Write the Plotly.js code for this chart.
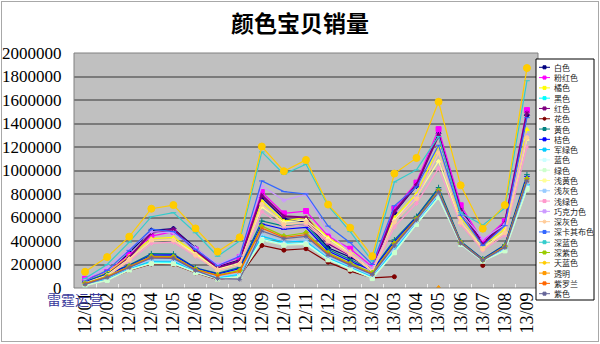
<!DOCTYPE html>
<html><head><meta charset="utf-8">
<script src="https://cdn.plot.ly/plotly-3.0.1.min.js"></script>
<style>
html,body{margin:0;padding:0;background:#fff}
#wrap{position:relative;width:600px;height:344px;overflow:hidden}
#c{width:600px;height:344px}
#frame{position:absolute;left:1px;top:1px;width:596px;height:339px;border:1px solid #a8a8a8;pointer-events:none}
</style>
</head><body>
<div id="wrap"><div id="c"></div><div id="frame"></div></div>
<script>
const categories = ["12/01","12/02","12/03","12/04","12/05","12/06","12/07","12/08","12/09","12/10","12/11","12/12","13/01","13/02","13/03","13/04","13/05","13/06","13/07","13/08","13/09"];
const seriesNames = ["白色","粉红色","橘色","黑色","红色","花色","黄色","桔色","军绿色","蓝色","绿色","浅黄色","浅灰色","浅绿色","巧克力色","深灰色","深卡其布色","深蓝色","深紫色","天蓝色","透明","紫罗兰","紫色"];

const white      = [50000,120000,300000,490000,505000,340000,180000,240000,769000,590000,561000,343000,263000,165000,640000,868000,1318000,680000,380000,560000,1471000];
const pink       = [78000,135000,280000,442000,479000,328000,186000,263000,817000,635000,655000,442000,334000,181000,675000,897000,1352000,704000,399000,570000,1514000];
const orange     = [60000,130000,270000,420000,430000,300000,170000,230000,740000,570000,600000,430000,310000,160000,600000,800000,1200000,600000,360000,500000,1350000];
const black      = [25000,75000,160000,220000,218000,140000,85000,110000,420000,375000,385000,250000,170000,92000,315000,550000,780000,375000,232000,325000,860000];
const red        = [45000,110000,260000,470000,500000,320000,170000,230000,790000,610000,600000,380000,280000,150000,650000,880000,1300000,660000,370000,550000,1490000];
const floral     = [25000,70000,150000,205000,200000,130000,72000,100000,362000,322000,334000,220000,143000,87000,96000,null,null,null,192000,null,null];
const yellow     = [55000,125000,195000,292000,290000,172000,125000,175000,570000,527000,540000,330000,240000,155000,410000,610000,855000,398000,248000,368000,965000];
const tangerine  = [50000,115000,190000,280000,282000,168000,118000,165000,545000,500000,515000,315000,228000,148000,395000,600000,840000,392000,245000,362000,950000];
const armyGreen  = [28000,80000,165000,230000,228000,145000,90000,120000,440000,390000,400000,260000,180000,100000,330000,560000,790000,378000,234000,335000,880000];
const blue       = [22000,68000,155000,212000,210000,135000,78000,100000,414000,371000,380000,245000,165000,85000,305000,545000,772000,373000,230000,320000,850000];
const green      = [20000,65000,152000,209000,205000,132000,75000,95000,405000,365000,372000,240000,160000,80000,300000,541000,769000,372000,229000,316000,840000];
const lightYellow= [45000,110000,250000,400000,410000,290000,160000,210000,690000,560000,580000,420000,300000,150000,580000,780000,1080000,560000,340000,480000,1267000];
const lightGray  = [32000,85000,170000,240000,238000,148000,95000,125000,460000,400000,410000,265000,185000,105000,340000,565000,800000,380000,235000,338000,890000];
const lightGreen = [40000,100000,230000,380000,390000,270000,150000,200000,650000,520000,540000,390000,280000,140000,520000,720000,1020000,540000,320000,450000,1200000];
const chocolate  = [70000,180000,330000,480000,470000,340000,200000,280000,870000,746000,797000,480000,300000,170000,560000,780000,1150000,640000,420000,540000,1300000];
const darkGray   = [40000,100000,240000,408000,408000,280000,150000,200000,712000,540000,560000,400000,290000,140000,560000,760000,1150000,560000,330000,470000,1280000];
const darkKhaki  = [60000,150000,320000,500000,480000,330000,190000,270000,911000,820000,800000,527000,386000,200000,700000,860000,1215000,620000,360000,530000,1450000];
const darkBlue   = [80000,200000,390000,607000,641000,470000,270000,400000,1158000,968000,1053000,700000,480000,229000,902000,1005000,1290000,640000,535000,680000,1764000];
const darkPurple = [40000,100000,185000,270000,268000,160000,110000,150000,527000,442000,470000,300000,210000,130000,380000,590000,830000,388000,240000,355000,930000];
const skyBlue    = [138000,263000,437000,675000,706000,507000,309000,431000,1204000,994000,1090000,710000,513000,271000,974000,1107000,1585000,874000,505000,706000,1872000];
const transparentS=[null,null,null,null,null,null,null,null,null,null,null,null,null,null,null,null,5000,null,null,null,null];
const violet     = [35000,95000,180000,262000,260000,155000,105000,140000,510000,430000,455000,290000,200000,120000,370000,585000,820000,385000,238000,350000,920000];
const purple     = [30000,90000,175000,255000,252000,150000,80000,75000,485000,420000,440000,280000,195000,115000,360000,580000,815000,382000,236000,345000,910000];

const seriesData = [white,pink,orange,black,red,floral,yellow,tangerine,armyGreen,blue,green,lightYellow,lightGray,lightGreen,chocolate,darkGray,darkKhaki,darkBlue,darkPurple,skyBlue,transparentS,violet,purple];

// styles
const colors = ["#000080","#FF00FF","#FFFF00","#00FFFF","#800080","#800000","#008080","#0000FF","#00CCFF","#CCFFFF","#CCFFCC","#FFFF99","#99CCFF","#FF99CC","#CC99FF","#FFCC99","#3366FF","#33CCCC","#99CC00","#FFCC00","#FF9900","#FF6600","#666699"];
const symbols = ["diamond","square","triangle-up","x-thin","asterisk","circle","cross-thin","line-ew","line-ew","square","square","triangle-up","x-thin","asterisk","asterisk","circle","line-ew","line-ew","diamond","circle","triangle-up","x-thin","asterisk"];
const sizes = seriesNames.map((n,i)=> i===19 ? 7 : (i===1 ? 5 : 4));
const widths = seriesNames.map((n,i)=> i===4 ? 2 : 1.2);

const SERIF = 'Liberation Serif';
const CJK = 'Noto Sans CJK SC';

const traces = seriesNames.map((n,i)=>({
  type:'scatter', mode:'lines+markers', x:categories, y:seriesData[i], name:n,
  line:{color:colors[i], width:widths[i]},
  marker:{symbol:symbols[i], size:sizes[i], color:colors[i], line:{color:colors[i], width:1}},
  connectgaps:false, showlegend:false, hoverinfo:'skip'
}));

const PL=74, PR=538, PT=53, PB=288;
const X = p => (p-PL)/(PR-PL);
const Y = p => (PB-p)/(PB-PT);

const shapes = [
  {type:'rect', xref:'paper', yref:'paper', x0:0, x1:1, y0:0, y1:1, line:{color:'#808080', width:1}, fillcolor:'rgba(0,0,0,0)', layer:'above'},
  {type:'rect', xref:'paper', yref:'paper', x0:X(536), x1:X(594), y0:Y(300), y1:Y(59), line:{color:'#000', width:1}, fillcolor:'#fff', layer:'above'}
];
const annotations = [
  {xref:'paper', yref:'paper', x:X(45), y:Y(299), xanchor:'left', yanchor:'middle', showarrow:false,
   text:'雷霆运营', font:{family:CJK, size:14, color:'#3a3a9c'}}
];
seriesNames.forEach((n,i)=>{
  const py = 67.3 + i*10.29;
  shapes.push({type:'line', xref:'paper', yref:'paper', x0:X(539), x1:X(550), y0:Y(py), y1:Y(py), line:{color:colors[i], width:1}, layer:'above'});
  shapes.push({type: symbols[i]==='circle' ? 'circle':'rect', xref:'paper', yref:'paper', x0:X(543), x1:X(546), y0:Y(py+1.5), y1:Y(py-1.5), line:{color:colors[i], width:1}, fillcolor:colors[i], layer:'above'});
  annotations.push({xref:'paper', yref:'paper', x:X(552), y:Y(py), xanchor:'left', yanchor:'middle', showarrow:false,
    text:n, font:{family:CJK, size:8, color:'#222'}});
});

const layout = {
  width:600, height:344,
  margin:{l:PL, r:600-PR, t:PT, b:344-PB, pad:0},
  paper_bgcolor:'#fff', plot_bgcolor:'#C0C0C0',
  title:{text:'颜色宝贝销量', xref:'container', yref:'container', x:0.5, y:1-24/344, xanchor:'center', yanchor:'middle',
         font:{family:CJK, size:23, weight:'bold', color:'#000'}},
  xaxis:{type:'category', range:[-0.5,20.5], tickangle:-90, tickson:'boundaries', ticks:'inside', ticklen:4, tickcolor:'#eeeeee',
         showgrid:false, zeroline:false, showline:false, automargin:false,
         tickfont:{family:SERIF, size:18, color:'#000'}},
  yaxis:{range:[0,2000000], dtick:200000, tickformat:'d', showgrid:true, gridcolor:'#7a7a7a', gridwidth:2,
         zeroline:false, showline:false, ticks:'outside', ticklen:8, tickcolor:'rgba(0,0,0,0)', automargin:false,
         tickfont:{family:SERIF, size:17, color:'#000'}},
  shapes:shapes, annotations:annotations, showlegend:false
};
Plotly.newPlot('c', traces, layout, {staticPlot:true, displayModeBar:false});
</script>
</body></html>
